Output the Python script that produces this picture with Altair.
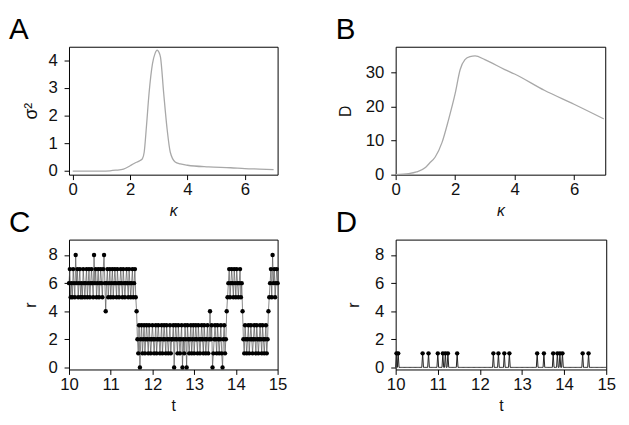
import altair as alt
import pandas as pd
import numpy as np

letters = ["A", "B", "C", "D"]

# Panel A: variance sigma^2 vs kappa
kappa_a = [0.0, 0.5, 1.0, 1.3, 1.5, 1.77, 2.0, 2.2, 2.35, 2.43, 2.49, 2.57, 2.66,
           2.78, 2.87, 2.94, 3.0, 3.06, 3.17, 3.29, 3.4, 3.57, 3.75, 4.0, 4.74,
           5.5, 6.0, 6.5, 7.0]
sigma2 = [0.0, 0.0, 0.0, 0.01, 0.03, 0.07, 0.19, 0.31, 0.38, 0.45, 0.68, 1.63, 2.81,
          3.88, 4.25, 4.37, 4.3, 4.11, 2.81, 1.51, 0.68, 0.33, 0.26, 0.21, 0.15,
          0.12, 0.09, 0.07, 0.05]

# Panel B: D vs kappa
kappa_b = [0.0, 0.44, 0.7, 1.0, 1.13, 1.33, 1.56, 1.78, 2.0, 2.17, 2.33, 2.5, 2.67,
           3.0, 3.67, 4.0, 5.0, 6.0, 7.0]
d_vals = [0.0, 0.3, 0.8, 2.1, 3.3, 5.2, 9.5, 16.2, 23.8, 30.9, 33.8, 34.7, 34.9,
          33.8, 30.9, 29.6, 24.8, 20.7, 16.4]

# Panels C and D: r(t), sampled every 0.02 from t=10 to t=15
t_start, t_step = 10.0, 0.02
r_c_str = ("6756576586 7567565765 6756756765 8675675676 5786467567 "
           "5675676576 5676576567 6576567567 5421302312 3123213212 "
           "3212312321 2312321321 2312230232 1321230213 2032123123 "
           "1232132123 2132123124 2301232132 1231023124 5675676576 "
           "5765675642 1321231232 1232132123 2132123124 5675867567 6")
r_d_str = ("0101000000 0000000000 0000000000 0010000001 0000000000 "
           "1000001001 0010000000 0001000000 0000000000 0000000000 "
           "0000000000 0000001000 0010000001 0000010000 0000000000 "
           "0000000000 0000000010 0000001000 0000000100 0010010010 "
           "0000000000 0000000000 0010000001 0000000000 0000000000 0")

r_c = [int(ch) for ch in r_c_str.replace(" ", "")]
r_d = [int(ch) for ch in r_d_str.replace(" ", "")]
t_c = [round(t_start + t_step * i, 2) for i in range(len(r_c))]
t_d = [round(t_start + t_step * i, 2) for i in range(len(r_d))]

dfA = pd.DataFrame({"k": kappa_a, "s": sigma2})
dfB = pd.DataFrame({"k": kappa_b, "d": d_vals})
dfC = pd.DataFrame({"t": t_c, "r": r_c})
dfD = pd.DataFrame({"t": t_d, "r": r_d})

FONT = "Liberation Sans"
ax = dict(grid=False, domain=False, ticks=True, tickColor="black", tickSize=5,
          tickWidth=1, labelFont=FONT, labelFontSize=17, labelColor="#111",
          titleFont=FONT, titleFontWeight="normal",
          titleColor="#111", labelFlush=False)
axx = dict(ax, labelPadding=2, titlePadding=6, titleFontSize=16)


def axy(tp, fs=16):
    return dict(ax, labelPadding=7, titlePadding=tp, titleFontSize=fs)


def letter(ch):
    return alt.Chart(pd.DataFrame({"l": [ch]})).mark_text(
        font=FONT, fontSize=30, color="black", align="left", baseline="alphabetic"
    ).encode(x=alt.value(-61), y=alt.value(-8), text="l:N")


xa = alt.X("k:Q", scale=alt.Scale(domain=[-0.13, 7.14], nice=False, zero=False),
           axis=alt.Axis(values=[0, 2, 4, 6], title="κ", titleFontStyle="italic", **axx))
ya = alt.Y("s:Q", scale=alt.Scale(domain=[-0.13, 4.49], nice=False, zero=False),
           axis=alt.Axis(values=[0, 1, 2, 3, 4], title="σ²", **axy(8, 18)))
lineA = alt.Chart(dfA).mark_line(color="#a8a8a8", strokeWidth=1.3,
                                 interpolate="monotone").encode(x=xa, y=ya)
panelA = alt.layer(lineA, letter(letters[0])).properties(width=212, height=130)

xb = alt.X("k:Q", scale=alt.Scale(domain=[0, 7.05], nice=False, zero=False),
           axis=alt.Axis(values=[0, 2, 4, 6], title="κ", titleFontStyle="italic", **axx))
yb = alt.Y("d:Q", scale=alt.Scale(domain=[0, 37.6], nice=False, zero=False),
           axis=alt.Axis(values=[0, 10, 20, 30], title="D", **axy(12)))
lineB = alt.Chart(dfB).mark_line(color="#a8a8a8", strokeWidth=1.3,
                                 interpolate="monotone").encode(x=xb, y=yb)
panelB = alt.layer(lineB, letter(letters[1])).properties(width=213, height=130)

xc = alt.X("t:Q", scale=alt.Scale(domain=[10, 15], nice=False, zero=False),
           axis=alt.Axis(values=[10, 11, 12, 13, 14, 15], title="t", **axx))
yc = alt.Y("r:Q", scale=alt.Scale(domain=[-0.15, 9.1], nice=False, zero=False),
           axis=alt.Axis(values=[0, 2, 4, 6, 8], title="r", **axy(10)))
yd = alt.Y("r:Q", scale=alt.Scale(domain=[-0.15, 9.1], nice=False, zero=False),
           axis=alt.Axis(values=[0, 2, 4, 6, 8], title="r", **axy(13)))

lineC = alt.Chart(dfC).mark_line(color="#555", strokeWidth=0.7).encode(x=xc, y=yc)
ptsC = alt.Chart(dfC).mark_circle(color="black", size=20, opacity=1).encode(x=xc, y=yc)
panelC = alt.layer(lineC, ptsC, letter(letters[2])).properties(width=212, height=132)

lineD = alt.Chart(dfD).mark_line(color="#222", strokeWidth=1).encode(x=xc, y=yd)
ptsD = alt.Chart(dfD).mark_circle(color="black", size=20, opacity=1).encode(
    x=xc, y=yd).transform_filter("datum.r > 0")
panelD = alt.layer(lineD, ptsD, letter(letters[3])).properties(width=214, height=132)

chart = alt.concat(
    panelA, panelB, panelC, panelD, columns=2,
    spacing=alt.RowColnumber(row=66, column=120), bounds="flush"
).properties(
    padding={"left": 0, "top": 3, "right": 5, "bottom": 5},
    background="white"
).configure_view(stroke="black", strokeWidth=1)

chart.save("out.html", embed_options={"renderer": "svg", "actions": False})
